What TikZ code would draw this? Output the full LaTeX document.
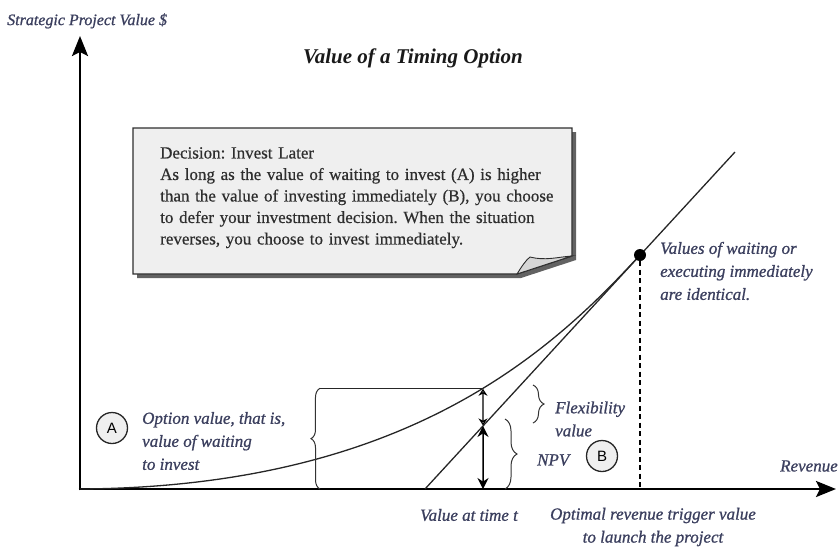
\documentclass[tikz,border=0pt]{standalone}
\usepackage{fontspec}
\setmainfont{Liberation Serif}
\setsansfont{Liberation Sans}
\newfontfamily\lblfont[FakeBold=0.9]{Liberation Serif}
\newfontfamily\notefont[FakeBold=0.5]{Liberation Serif}
\usetikzlibrary{arrows.meta,decorations.pathreplacing,intersections}
\frenchspacing

\definecolor{labelink}{HTML}{3B3F5E}
\definecolor{noteink}{HTML}{2E2E2E}
\definecolor{notefill}{HTML}{EFEFEF}
\definecolor{flapfill}{HTML}{D6D6D6}
\definecolor{shadowgray}{HTML}{626262}

\tikzset{
  axis/.style={line width=2.6pt, -{Stealth[length=20pt,width=16pt,inset=4pt]}},
  graphline/.style={line width=1.3pt, draw=black!85},
  lbl/.style={text=labelink, font=\fontsize{17}{23}\selectfont\lblfont\itshape, inner sep=0pt, align=left},
  marker/.style={circle, draw=black!85, line width=1.3pt, fill=notefill, minimum size=31pt,
                 inner sep=0pt, font=\fontsize{15}{15}\selectfont\sffamily},
  bracegroup/.style={decorate, decoration={brace, amplitude=#1}, line width=1pt, draw=black!80},
  npvarrow/.style={line width=1.5pt, {Stealth[length=11pt,width=11pt]}-{Stealth[length=11pt,width=11pt]}},
  flexarrow/.style={line width=1.3pt, {Stealth[open,length=7pt,width=9pt]}-{Stealth[open,length=7pt,width=9pt]}},
}

\begin{document}
\begin{tikzpicture}[x=1pt,y=-1pt]
\useasboundingbox (0,0) rectangle (839,547);

% key points of the chart
\coordinate (Ox) at (78.7,489);
\coordinate (Oy) at (80,490.3);
\coordinate (O) at (80,489);
\coordinate (xtip) at (836,489);
\coordinate (ytip) at (80,36);
\coordinate (L0) at (425,489);
\coordinate (L1) at (735,152);
\coordinate (T) at (640,255);
\coordinate (Tfoot) at (640,489);
\coordinate (c1) at (405,487);
\coordinate (c2) at (550,353);
\coordinate (F) at (483,489);

% note card with shadow and folded corner
\begin{scope}[shift={(4,4)}]
  \fill[shadowgray] (133,128) -- (572,128) -- (572,256) -- (517,274) -- (133,274) -- cycle;
\end{scope}
\filldraw[fill=notefill, draw=noteink, line width=1.2pt]
  (133,128) -- (572,128) -- (572,256) -- (517,274) -- (133,274) -- cycle;
\filldraw[fill=flapfill, draw=noteink, line width=0.9pt]
  (517,274) .. controls (522,266) and (526,260) .. (530,257)
  .. controls (545,261) and (558,257) .. (572,256) -- cycle;
\node[anchor=north west, text width=420pt, align=left, inner sep=0pt,
      font=\fontsize{17}{21.5}\selectfont\notefont, text=noteink] (note) at (160,147)
  {Decision: Invest Later\\
   As long as the value of waiting to invest (A) is higher\\
   than the value of investing immediately (B), you choose\\
   to defer your investment decision. When the situation\\
   reverses, you choose to invest immediately.};

% axes
\draw[axis] (Oy) -- (ytip);
\draw[axis] (Ox) -- (xtip);

% option value curve and NPV line
\draw[graphline, name path=optcurve] (O) .. controls (c1) and (c2) .. (T);
\draw[graphline, name path=npvline] (L0) -- (L1);
\path[name path=probe] (483,300) -- (483,495);
\path[name intersections={of=optcurve and probe, by=C}];
\path[name intersections={of=npvline and probe, by=N}];

% trigger point
\node[circle, fill=black, minimum size=12pt, inner sep=0pt] (dot) at (T) {};
\draw[line width=1.3pt, dash pattern=on 5pt off 3.5pt] (dot) -- (Tfoot);

% option value bracket
\path (C) ++(-163,0) coordinate (Btop);
\coordinate (Bbot) at (320,489);
\draw[graphline] (Btop) -- (C);
\draw[bracegroup=9] (Bbot) -- (Btop);

% value arrows
\draw[npvarrow] (N) -- (F);
\draw[flexarrow, shorten <=0.5pt, shorten >=0.5pt] (C) -- (N);

% braces for flexibility value and NPV
\coordinate (fbT) at (533,385);
\coordinate (fbB) at (533,423);
\coordinate (nbT) at (505,419);
\coordinate (nbB) at (505,489);
\draw[bracegroup=11] (fbT) -- (fbB);
\draw[bracegroup=12] (nbT) -- (nbB);

% labels
\node[lbl, anchor=west] (flexlbl) at (555,419) {Flexibility\\value};
\node[lbl, anchor=west] (npvlbl) at (537,460) {NPV};
\node[marker] (mB) at (602,456) {B};
\node[marker] (mA) at (112,428) {A};
\node[lbl, anchor=west] (optlbl) at (142,441) {Option value, that is,\\value of waiting\\to invest};
\node[lbl, anchor=west] (samelbl) at (660,271) {Values of waiting or\\executing immediately\\are identical.};
\node[lbl, anchor=west] (revlbl) at (780,466) {Revenue};
\node[lbl] (vtlbl) at (469,515) {Value at time t};
\node[lbl, align=center] (triglbl) at (653,527) {Optimal revenue trigger value\\to launch the project};
\node[lbl, anchor=west, font=\fontsize{16}{16}\selectfont\lblfont\itshape] (ylbl) at (7,21) {Strategic Project Value \$};
\node[font=\fontsize{21}{21}\selectfont\bfseries\itshape, text=black!90, inner sep=0pt] (title) at (413,58) {Value of a Timing Option};
\end{tikzpicture}
\end{document}
